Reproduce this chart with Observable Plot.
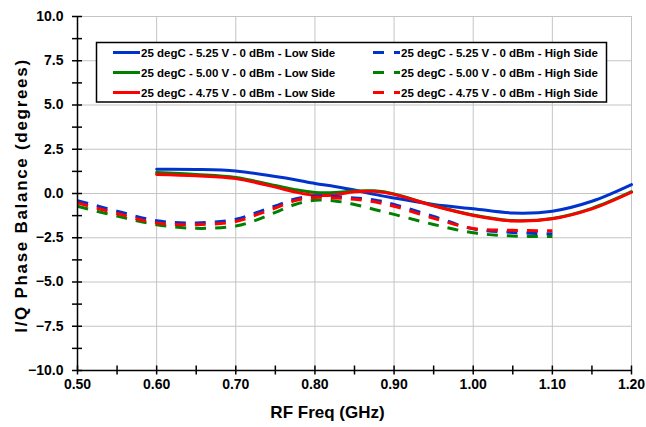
<!DOCTYPE html>
<html><head><meta charset="utf-8">
<script src="https://cdn.jsdelivr.net/npm/d3@7"></script>
<script src="https://cdn.jsdelivr.net/npm/@observablehq/plot@0.6"></script>
<style>body{margin:0;background:#fff;} #chart{position:relative;width:646px;height:427px;}</style>
</head><body><div id="chart"></div>
<script>
// ---- data ----
const lowFreq  = [0.60, 0.65, 0.70, 0.75, 0.775, 0.80, 0.825, 0.85, 0.875, 0.90, 0.95, 1.00, 1.05, 1.10, 1.15, 1.20];
const low525   = [1.37, 1.36, 1.27, 0.96, 0.78, 0.57, 0.40, 0.20, -0.05, -0.25, -0.62, -0.86, -1.10, -1.00, -0.44, 0.50];
const low500   = [1.18, 1.07, 0.90, 0.45, 0.22, 0.06, 0.05, 0.14, 0.15, -0.02, -0.68, -1.22, -1.53, -1.41, -0.84, 0.10];
const low475   = [1.08, 1.00, 0.84, 0.36, 0.08, -0.10, -0.08, 0.10, 0.12, -0.05, -0.70, -1.24, -1.55, -1.43, -0.87, 0.07];

const highFreq = [0.50, 0.55, 0.60, 0.65, 0.70, 0.725, 0.75, 0.775, 0.80, 0.825, 0.85, 0.875, 0.90, 0.95, 1.00, 1.05, 1.10];
const high525  = [-0.40, -1.00, -1.54, -1.66, -1.46, -1.10, -0.70, -0.31, -0.15, -0.17, -0.25, -0.36, -0.62, -1.30, -2.00, -2.20, -2.28];
const high500  = [-0.72, -1.28, -1.76, -1.97, -1.84, -1.52, -1.07, -0.62, -0.38, -0.42, -0.62, -0.90, -1.18, -1.75, -2.22, -2.40, -2.43];
const high475  = [-0.53, -1.13, -1.67, -1.76, -1.58, -1.22, -0.82, -0.40, -0.22, -0.25, -0.33, -0.47, -0.72, -1.40, -1.98, -2.08, -2.10];

const seriesNames = [
  "25 degC - 5.25 V - 0 dBm - Low Side",
  "25 degC - 5.00 V - 0 dBm - Low Side",
  "25 degC - 4.75 V - 0 dBm - Low Side",
  "25 degC - 5.25 V - 0 dBm - High Side",
  "25 degC - 5.00 V - 0 dBm - High Side",
  "25 degC - 4.75 V - 0 dBm - High Side"
];
const seriesColors = ["#0033cc", "#008000", "#ff0000", "#0033cc", "#008000", "#ff0000"];
const seriesDashed = [false, false, false, true, true, true];

const xTicks = [0.50, 0.60, 0.70, 0.80, 0.90, 1.00, 1.10, 1.20];
const yTicks = [-10, -7.5, -5, -2.5, 0, 2.5, 5, 7.5, 10];
const xMinor = [0.50, 0.55, 0.60, 0.65, 0.70, 0.75, 0.80, 0.85, 0.90, 0.95, 1.00, 1.05, 1.10, 1.15, 1.20];
const yMinor = [-10, -8.75, -7.5, -6.25, -5, -3.75, -2.5, -1.25, 0, 1.25, 2.5, 3.75, 5, 6.25, 7.5, 8.75, 10];

const xTitle = "RF Freq (GHz)";
const yTitle = "I/Q Phase Balance (degrees)";

// ---- build tables ----
const seriesData = [
  [lowFreq, low525], [lowFreq, low500], [lowFreq, low475],
  [highFreq, high525], [highFreq, high500], [highFreq, high475]
].map(([xs, ys]) => xs.map((x, i) => ({x, y: ys[i]})));

const FONT = "'Liberation Sans', Arial, Helvetica, sans-serif";

const lineMarks = seriesData.map((rows, k) => Plot.line(rows, {
  x: "x", y: "y",
  stroke: seriesColors[k],
  strokeWidth: 3,
  curve: "catmull-rom",
  strokeDasharray: seriesDashed[k] ? "11,9" : null,
  strokeLinecap: seriesDashed[k] ? "butt" : "round"
}));

const chart = Plot.plot({
  width: 646, height: 427,
  marginLeft: 77, marginRight: 15, marginTop: 16, marginBottom: 57,
  style: {fontFamily: FONT, background: "white", overflow: "visible"},
  x: {domain: [0.5, 1.2]},
  y: {domain: [-10, 10]},
  marks: [
    Plot.ruleX(xTicks, {stroke: "#c4c4c4", strokeWidth: 1}),
    Plot.ruleY(yTicks, {stroke: "#c4c4c4", strokeWidth: 1}),
    ...lineMarks,
    Plot.ruleX([0.5], {stroke: "black", strokeWidth: 1.5}),
    Plot.ruleY([-10], {stroke: "black", strokeWidth: 1.5}),
    Plot.ruleX(xMinor, {y1: -10, y2: -10, insetTop: -4.5, insetBottom: -4.5, stroke: "black", strokeWidth: 1.5}),
    Plot.ruleY(yMinor, {x1: 0.5, x2: 0.5, insetLeft: -5, insetRight: -5, stroke: "black", strokeWidth: 1.5}),
    Plot.axisX(xTicks, {tickSize: 0, tickPadding: 9, tickFormat: d3.format(".2f"), fontSize: 14, fontWeight: "bold", fill: "black", label: null}),
    Plot.axisY(yTicks, {tickSize: 0, tickPadding: 14, tickFormat: d3.format(".1f"), fontSize: 14, fontWeight: "bold", fill: "black", label: null}),
    Plot.text([xTitle], {text: d => d, frameAnchor: "bottom", textAnchor: "middle", dx: -27, dy: 47, fontSize: 17, fontWeight: "bold", fill: "black"}),
    Plot.text([yTitle], {text: d => d, frameAnchor: "left", textAnchor: "middle", lineAnchor: "middle", rotate: -90, dx: -56, dy: 2, fontSize: 17, fontWeight: "bold", fill: "black"})
  ]
});

document.getElementById("chart").appendChild(chart);

// stretch y title a little as in the reference
d3.select(chart).selectAll("text").filter(function() { return this.textContent === yTitle; })
  .attr("letter-spacing", "1.7px");

// ---- legend (inside plot area) ----
const svg = d3.select(chart);
const lg = svg.append("g").attr("font-family", FONT).attr("font-weight", "bold")
  .attr("font-size", "11.5px").attr("text-anchor", "start");
lg.append("rect").attr("x", 96.5).attr("y", 42.5).attr("width", 510).attr("height", 59.5)
  .attr("fill", "white").attr("stroke", "black").attr("stroke-width", 1.5);
seriesNames.forEach((name, k) => {
  const col = k < 3 ? 0 : 1;
  const row = k % 3;
  const x0 = col === 0 ? 113 : 373;
  const y0 = 52.5 + row * 20;
  lg.append("line").attr("x1", x0).attr("x2", x0 + 27).attr("y1", y0).attr("y2", y0)
    .attr("stroke", seriesColors[k]).attr("stroke-width", 3)
    .attr("stroke-dasharray", seriesDashed[k] ? "11,10" : null);
  lg.append("text").attr("x", x0 + 28).attr("y", y0).attr("dy", "0.35em")
    .attr("fill", "black").attr("text-anchor", "start").text(name);
});
</script>
</body></html>
